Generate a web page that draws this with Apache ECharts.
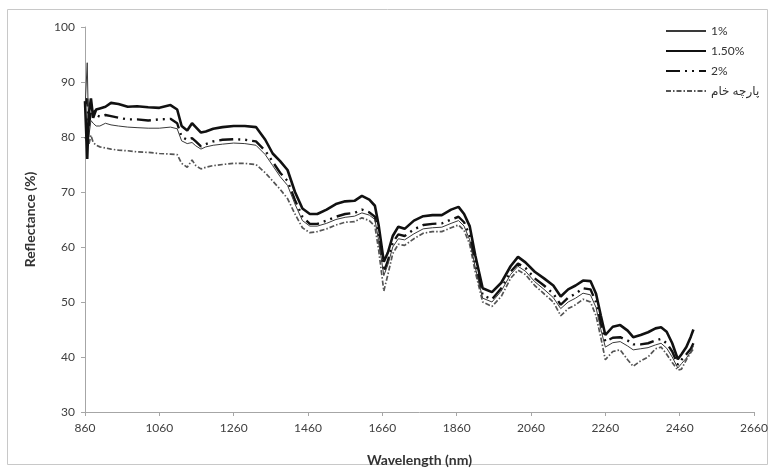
<!DOCTYPE html>
<html>
<head>
<meta charset="utf-8">
<script src="https://cdn.jsdelivr.net/npm/echarts@6/dist/echarts.min.js"></script>
<style>
html,body{margin:0;padding:0;background:#fff;}
#chart{width:774px;height:472px;}
</style>
</head>
<body>
<div id="chart"></div>
<script>
const wavelengths = [860,866,870,876,882,890,900,915,930,950,975,1000,1030,1060,1090,1108,1120,1135,1148,1158,1172,1185,1205,1230,1260,1290,1320,1345,1365,1385,1405,1425,1445,1465,1485,1510,1535,1560,1585,1605,1625,1640,1650,1664,1675,1688,1703,1720,1745,1770,1795,1820,1845,1865,1880,1895,1910,1930,1955,1980,2005,2025,2045,2070,2095,2120,2140,2160,2180,2200,2220,2235,2248,2260,2280,2300,2320,2335,2355,2375,2395,2410,2425,2440,2455,2465,2478,2490,2497];

const s1 = [85,93.5,80,83,82.5,82,82,82.5,82.2,82,81.8,81.7,81.6,81.6,81.8,81.5,79.3,78.8,79,78.4,77.8,78.2,78.5,78.7,78.9,78.8,78.5,76.8,74.8,72.8,71.2,67.8,64.8,63.8,63.8,64.3,65,65.4,65.6,66.2,65.8,65,61.3,54.8,56.8,60,61.5,61.3,62.4,63.3,63.5,63.6,64.3,64.8,63.8,61.3,56.3,50.7,50,52,55,56.5,55.6,53.7,52.3,50.8,48.8,50,50.7,51.6,51.3,49,45,41.8,42.6,42.8,42,41.3,41.5,41.7,42.2,42.5,41.6,40,38,38.8,39.8,41,42];

const s150 = [86.5,76,84,87,83.5,85,85.2,85.5,86.2,86,85.5,85.6,85.4,85.3,85.8,85,82,81.2,82.5,81.8,80.8,81,81.5,81.8,82,82,81.8,79.5,77,75.6,74,70,67,66,66,66.8,67.8,68.3,68.4,69.3,68.6,67.5,64,57.3,59,62,63.7,63.3,64.8,65.6,65.8,65.8,66.8,67.3,66,63.8,58.5,52.5,51.8,53.5,56.5,58.2,57.2,55.5,54.3,53,51,52.3,53,53.9,53.8,51.5,47.5,44,45.5,45.8,44.8,43.6,44,44.5,45.2,45.4,44.6,42.5,39.6,40.5,41.8,43.7,45];

const s2 = [86,87,82,84.5,85,84,83.7,84,83.8,83.5,83.2,83.2,83,83.2,83.3,82.5,80,79.5,79.8,79.2,78.3,78.7,79.2,79.5,79.6,79.5,79.2,77.5,75.5,73.5,72,68.5,65.5,64.2,64.2,64.8,65.5,66,66.2,66.8,66.3,65.5,62,55.5,57.5,60.8,62.3,62,63.2,64,64.2,64.3,65,65.5,64.5,62,57,51.2,50.5,52.5,55.5,57,56.2,54.3,53,51.5,49.5,50.8,51.5,52.5,52.3,50,46,42.8,43.5,43.6,43,42.3,42.3,42.5,43,43.3,42.5,41,38.6,39.5,40.5,41.5,42.5];

const sRaw = [80,79,78.5,80.3,79,78.5,78.2,78,77.8,77.6,77.5,77.3,77.2,77,76.9,76.8,75.2,74.5,75.8,74.8,74.2,74.5,74.8,75,75.2,75.2,75,73.5,72,70.5,68.8,66,63.5,62.6,62.8,63.3,64,64.5,64.6,65.3,64.8,63.8,59.5,52,55,58.8,60.5,60.3,61.5,62.5,62.8,62.8,63.5,64,63,60.5,55.5,50,49.2,51,54.3,55.8,55,53,51.5,50,47.5,48.8,49.5,50.5,50,47.5,43.5,39.5,41,41.3,39.5,38.3,39.3,40,41.5,41.8,40.5,39,37.6,37.8,39.5,40.8,41.5];

const seriesNames = ['1%','1.50%','2%','پارچه خام'];
const xTickLabels = [860,1060,1260,1460,1660,1860,2060,2260,2460,2660];
const X_OFFSET = xTickLabels[0];

function pairs(vals){ return wavelengths.map((w,i)=>[w - X_OFFSET, vals[i]]); }

const FONT = 'Lato,"Open Sans","DejaVu Sans",sans-serif';
const chart = echarts.init(document.getElementById('chart'), null, {renderer:'canvas'});
chart.setOption({
  backgroundColor:'#ffffff',
  animation:false,
  graphic:[{type:'rect',shape:{x:7.5,y:9.5,width:760,height:455},style:{fill:'none',stroke:'#c8c8c8',lineWidth:1},silent:true,z:-1}],
  grid:{left:85,right:20,top:27,bottom:60},
  legend:{
    orient:'vertical', left:660, top:20, itemWidth:40, itemHeight:12, itemGap:8,
    itemStyle:{opacity:0},
    textStyle:{fontFamily:FONT,fontSize:12,color:'#333'},
    data:seriesNames
  },
  xAxis:{
    type:'value', min:0, max:xTickLabels[xTickLabels.length-1]-X_OFFSET, interval:200,
    name:'Wavelength (nm)', nameLocation:'middle', nameGap:41,
    nameTextStyle:{fontFamily:FONT,fontSize:14,fontWeight:'bold',color:'#333'},
    axisLine:{lineStyle:{color:'#a6a6a6',width:1}},
    axisTick:{show:true,length:4,lineStyle:{color:'#a6a6a6'}},
    axisLabel:{fontFamily:FONT,fontSize:12,color:'#404040',margin:10,formatter:v=>String(v+X_OFFSET)},
    splitLine:{show:false}
  },
  yAxis:{
    type:'value', min:30, max:100, interval:10,
    name:'Reflectance (%)', nameLocation:'middle', nameGap:48, nameRotate:90,
    nameTextStyle:{fontFamily:FONT,fontSize:14,fontWeight:'bold',color:'#333'},
    axisLine:{show:true,lineStyle:{color:'#a6a6a6',width:1}},
    axisTick:{show:true,length:4,lineStyle:{color:'#a6a6a6'}},
    axisLabel:{fontFamily:FONT,fontSize:12,color:'#404040',margin:10},
    splitLine:{show:false}
  },
  series:[
    {name:seriesNames[0],type:'line',symbol:'none',data:pairs(s1),lineStyle:{color:'#3a3a3a',width:1},itemStyle:{color:'#3a3a3a'},z:3},
    {name:seriesNames[1],type:'line',symbol:'none',data:pairs(s150),lineStyle:{color:'#111',width:2.6},itemStyle:{color:'#111'},z:4},
    {name:seriesNames[2],type:'line',symbol:'none',data:pairs(s2),lineStyle:{color:'#111',width:2.4,type:[14,5,2,5,2,5]},itemStyle:{color:'#111'},z:2},
    {name:seriesNames[3],type:'line',symbol:'none',data:pairs(sRaw),lineStyle:{color:'#555',width:1.7,type:[5,2,1.5,2]},itemStyle:{color:'#555'},z:1}
  ]
});
</script>
</body>
</html>
